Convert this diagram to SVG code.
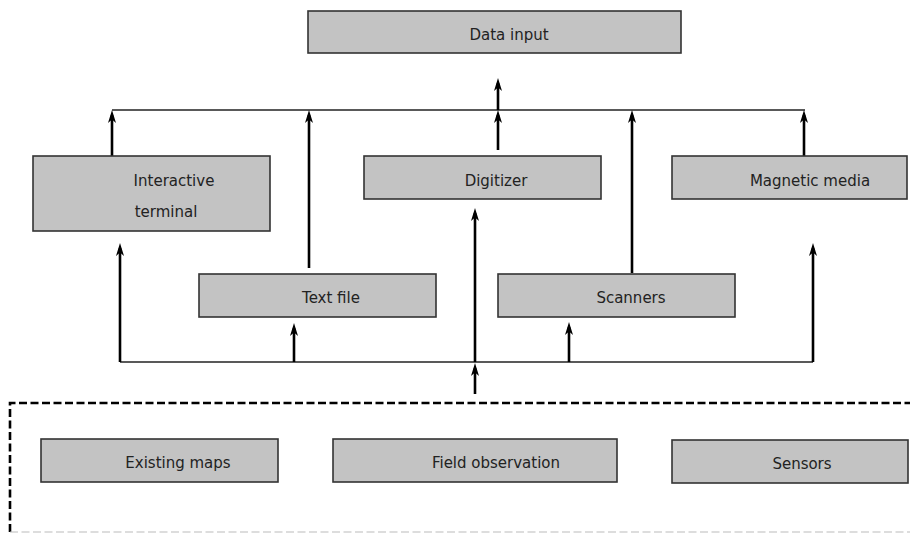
<svg xmlns="http://www.w3.org/2000/svg" width="910" height="533" viewBox="0 0 910 533">
<style>
.box{fill:#c3c3c3;stroke:#333;stroke-width:1.6}
.lbl{font-family:"DejaVu Sans","Liberation Sans",sans-serif;font-size:15px;fill:#222;text-anchor:middle}
.bus{stroke:#222;stroke-width:1.4;fill:none}
.arr{stroke:#000;stroke-width:2.6;fill:none;marker-end:url(#ah)}
</style>
<defs>
<marker id="ah" markerUnits="userSpaceOnUse" markerWidth="14" markerHeight="9" refX="8" refY="4.5" orient="auto" viewBox="0 0 14 9">
<path d="M0,0.5 L13,4.5 L0,8.5 L3.5,4.5 Z" fill="#000"/>
</marker>
</defs>
<rect width="910" height="533" fill="#fff"/>
<g id="connectors">
<line class="bus" x1="112" y1="110" x2="805" y2="110"/>
<line class="bus" x1="120" y1="362" x2="813" y2="362"/>
<path class="arr" d="M112,157 V115"/>
<path class="arr" d="M309,268 V115"/>
<path class="arr" d="M498,150 V115"/>
<path class="arr" d="M498,110 V83"/>
<path class="arr" d="M632,273 V115"/>
<path class="arr" d="M804,157 V115"/>
<path class="arr" d="M120,362 V248"/>
<path class="arr" d="M294,362 V328"/>
<path class="arr" d="M569,362 V327"/>
<path class="arr" d="M813,362 V248"/>
<path class="arr" d="M475,394 V368"/>
<path class="arr" d="M475,362 V213"/>
</g>
<g id="sources-frame">
<path d="M10,532 V403 H912" fill="none" stroke="#000" stroke-width="2.6" stroke-dasharray="8,3.5"/>
<path d="M10,532 H912" fill="none" stroke="#bbb" stroke-width="1.2" stroke-dasharray="8,3.5"/>
</g>
<g id="data-input"><rect class="box" x="308" y="11" width="373" height="42"/><text class="lbl" x="509" y="40">Data input</text></g>
<g id="interactive-terminal"><rect class="box" x="33" y="156" width="237" height="75"/><text class="lbl" x="174" y="186">Interactive</text><text class="lbl" x="166" y="217">terminal</text></g>
<g id="digitizer"><rect class="box" x="364" y="156" width="237" height="43"/><text class="lbl" x="496" y="186">Digitizer</text></g>
<g id="magnetic-media"><rect class="box" x="672" y="156" width="235" height="43"/><text class="lbl" x="810" y="186">Magnetic media</text></g>
<g id="text-file"><rect class="box" x="199" y="274" width="237" height="43"/><text class="lbl" x="331" y="303">Text file</text></g>
<g id="scanners"><rect class="box" x="498" y="274" width="237" height="43"/><text class="lbl" x="631" y="303">Scanners</text></g>
<g id="existing-maps"><rect class="box" x="41" y="439" width="237" height="43"/><text class="lbl" x="178" y="468">Existing maps</text></g>
<g id="field-observation"><rect class="box" x="333" y="439" width="284" height="43"/><text class="lbl" x="496" y="468">Field observation</text></g>
<g id="sensors"><rect class="box" x="672" y="440" width="236" height="43"/><text class="lbl" x="802" y="469">Sensors</text></g>
</svg>
